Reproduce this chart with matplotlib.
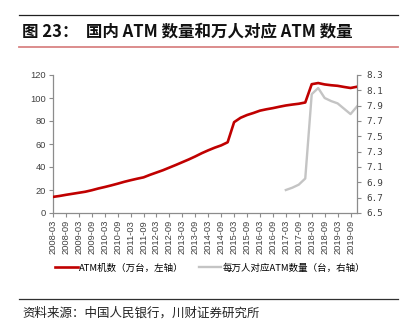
import matplotlib
matplotlib.use("Agg")
import matplotlib.pyplot as plt
from matplotlib.lines import Line2D

plt.rcParams['font.family'] = ['Noto Sans CJK SC', 'DejaVu Sans']

# Quarterly periods 2008-03 .. 2019-12
years = list(range(2008, 2020))
quarters = ["03", "06", "09", "12"]
periods = [f"{y}-{q}" for y in years for q in quarters]

# ATM count (10k units, left axis)
atm_count = [14.0, 14.8, 15.8, 16.7, 17.6, 18.5, 19.8, 21.3,
             22.6, 24.0, 25.5, 27.1, 28.5, 29.8, 31.0, 33.2,
             35.2, 37.2, 39.5, 41.8, 44.2, 46.6, 49.2, 52.0,
             54.5, 56.8, 58.8, 61.5, 79.0, 82.8, 85.2, 87.0,
             89.0, 90.2, 91.2, 92.4, 93.5, 94.3, 95.0, 96.1,
             112.0, 113.0, 111.8, 111.1, 110.6, 109.6, 108.7, 109.8]

# ATMs per 10k people (units, right axis), from 2017-03
atm_per_10k = [6.80, 6.83, 6.87, 6.95, 8.05, 8.13, 8.00, 7.96,
               7.93, 7.86, 7.79, 7.89]
per_10k_start = periods.index("2017-03")

left_ticks = [0, 20, 40, 60, 80, 100, 120]
right_ticks = [6.5, 6.7, 6.9, 7.1, 7.3, 7.5, 7.7, 7.9, 8.1, 8.3]

label_left = "ATM机数（万台，左轴）"
label_right = "每万人对应ATM数量（台，右轴）"
title = "图 23：  国内 ATM 数量和万人对应 ATM 数量"
source = "资料来源：中国人民银行，川财证券研究所"

RED = "#c00000"
GRAY = "#c4c4c4"
AXIS = "#8c8c8c"
TXT = "#404040"

fig = plt.figure(figsize=(4.09, 3.32), dpi=100)
W, H = 409, 332

ax = fig.add_axes([53 / W, 1 - 213 / H, (357 - 53) / W, (213 - 75) / H])
ax2 = ax.twinx()

x = list(range(len(periods)))
ax.plot(x, atm_count, color=RED, lw=1.9, solid_joinstyle="round", zorder=3)
x2 = list(range(per_10k_start, per_10k_start + len(atm_per_10k)))
ax2.plot(x2, atm_per_10k, color=GRAY, lw=1.7, solid_joinstyle="round", zorder=2)
ax.set_zorder(ax2.get_zorder() + 1)
ax.patch.set_visible(False)

ax.set_xlim(0, len(periods) - 1)
ax.set_ylim(0, 120)
ax2.set_ylim(6.5, 8.3)

ax.set_yticks(left_ticks)
ax.set_yticklabels([str(v) for v in left_ticks], fontsize=6.7,
                   family="Liberation Sans", color=TXT)
ax2.set_yticks(right_ticks)
ax2.set_yticklabels([f"{v:.1f}" for v in right_ticks], fontsize=6.7,
                    family="DejaVu Sans Mono", color=TXT)

tick_idx = x[::2]
ax.set_xticks(tick_idx)
ax.set_xticklabels([periods[i] for i in tick_idx], rotation=90, fontsize=6.7,
                   family="Liberation Sans", color=TXT)

for a in (ax, ax2):
    for s in a.spines.values():
        s.set_visible(False)
ax.spines["left"].set_visible(True)
ax.spines["bottom"].set_visible(True)
ax2.spines["right"].set_visible(True)
for s in (ax.spines["left"], ax.spines["bottom"], ax2.spines["right"]):
    s.set_color(AXIS)
    s.set_linewidth(0.9)

ax.tick_params(axis="both", direction="out", length=3, width=0.8,
               color=AXIS, pad=2)
ax2.tick_params(axis="y", direction="out", length=3, width=0.8,
                color=AXIS, pad=4)

# Legend
handles = [Line2D([], [], color=RED, lw=1.9), Line2D([], [], color=GRAY, lw=1.7)]
fig.legend(handles, [label_left, label_right], loc="center",
           bbox_to_anchor=(210 / W, 1 - 268 / H), ncol=2, frameon=False,
           fontsize=6.8, handlelength=2.4, handletextpad=0.1,
           columnspacing=1.6)

# Header and footer
fig.add_artist(Line2D([19 / W, 398 / W], [1 - 14.5 / H, 1 - 14.5 / H],
                      color="#202020", lw=0.9))
fig.text(22 / W, 1 - 31 / H, title, fontsize=11.9, fontweight="bold",
         color="#111111", va="center", ha="left")
fig.add_artist(Line2D([19 / W, 398 / W], [1 - 46.5 / H, 1 - 46.5 / H],
                      color="#d98484", lw=1.3))
fig.add_artist(Line2D([19 / W, 398 / W], [1 - 299 / H, 1 - 299 / H],
                      color="#303030", lw=0.9))
fig.text(22 / W, 1 - 313 / H, source, fontsize=9.0, color="#222222",
         va="center", ha="left")

fig.savefig("out.png", dpi=100)
